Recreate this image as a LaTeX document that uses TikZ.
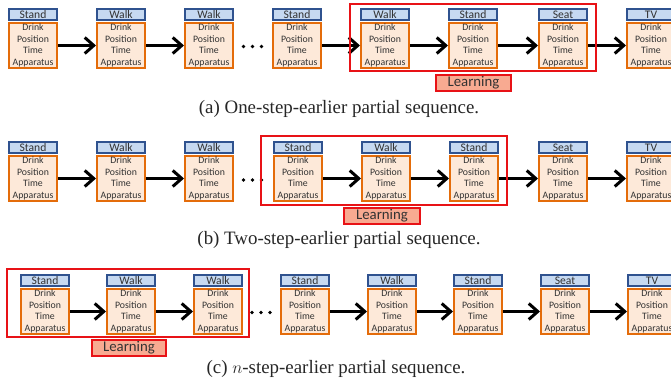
\documentclass[tikz,border=0pt]{standalone}
\usepackage{fontspec}
\setmainfont{Liberation Serif}
\newfontfamily\boxfont{Carlito}
\usetikzlibrary{arrows.meta}

\definecolor{hdrfill}{RGB}{198,217,241}
\definecolor{hdrline}{RGB}{47,82,143}
\definecolor{bdyfill}{RGB}{253,233,217}
\definecolor{bdyline}{RGB}{228,108,10}
\definecolor{framered}{RGB}{232,18,22}
\definecolor{learnfill}{RGB}{248,170,145}
\definecolor{boxtext}{RGB}{50,50,50}

\tikzset{
  hdr/.style={draw=hdrline, fill=hdrfill, line width=2pt, anchor=north west,
    minimum width=48pt, minimum height=11pt, inner sep=0pt, text=boxtext,
    font=\boxfont\fontsize{11.6}{12}\selectfont},
  bdy/.style={draw=bdyline, fill=bdyfill, line width=2pt, anchor=north west,
    minimum width=48pt, minimum height=45pt, inner sep=0pt, align=center, text=boxtext,
    font=\boxfont\fontsize{9.8}{11.6}\selectfont},
  seqarrow/.style={line width=3pt, -{Straight Barb[length=9pt,width=16pt]}},
  frame/.style={draw=framered, line width=2pt},
  learn/.style={draw=framered, fill=learnfill, line width=2pt, inner sep=0pt,
    text=boxtext, font=\boxfont\fontsize{14.8}{15}\selectfont},
  dot/.style={fill=black, draw=none},
  caption/.style={anchor=base, font=\fontsize{18.9}{20}\selectfont, text=black!85}
}

% one row of activity boxes: #1 row name, #2 top edge, #3 list of left-edge/label
\newcommand\activityrow[3]{%
  \foreach \bx/\lab [count=\i] in {#3} {
    \node[hdr] (#1\i h) at (\bx+1,#2+1) {\lab};
    \node[bdy] (#1\i) at (\bx+1,#2+15) {Drink\\Position\\Time\\Apparatus};
  }%
}

\begin{document}
\begin{tikzpicture}[x=1pt,y=-1pt]
  \useasboundingbox (0,0) rectangle (671,387);

  % ---- (a) ----
  \activityrow{a}{7}{7/Stand,95/Walk,183/Walk,271/Stand,359/Walk,447/Stand,537/Seat,625/TV}
  \foreach \p/\q in {1/2,2/3,4/5,5/6,6/7,7/8}
    \draw[seqarrow] (a\p) -- (a\q);
  \foreach \dx in {243.5,252.5,261.5}
    \fill[dot] (\dx,46.5) circle (1.8);
  \draw[frame] (350,4) rectangle (596,71);
  \node[learn, minimum width=75pt, minimum height=16pt] (la) at (473.5,83) {Learning};
  \node[caption] (capa) at (339,114) {(a) One-step-earlier partial sequence.};

  % ---- (b) ----
  \activityrow{b}{140}{7/Stand,95/Walk,183/Walk,272/Stand,360/Walk,448/Stand,537/Seat,625/TV}
  \foreach \p/\q in {1/2,2/3,4/5,5/6,6/7,7/8}
    \draw[seqarrow] (b\p) -- (b\q);
  \foreach \dx in {243.5,252.5,261.5}
    \fill[dot] (\dx,180) circle (1.8);
  \draw[frame] (261,136) rectangle (507,205);
  \node[learn, minimum width=76pt, minimum height=16pt] (lb) at (382,216) {Learning};
  \node[caption] (capb) at (339,244) {(b) Two-step-earlier partial sequence.};

  % ---- (c) ----
  \activityrow{c}{273}{19/Stand,105/Walk,192/Walk,279/Stand,366/Walk,452/Stand,539/Seat,626/TV}
  \foreach \p/\q in {1/2,2/3,4/5,5/6,6/7,7/8}
    \draw[seqarrow] (c\p) -- (c\q);
  \foreach \dx in {252,261,270}
    \fill[dot] (\dx,312.5) circle (1.8);
  \draw[frame] (7,269) rectangle (249,337);
  \node[learn, minimum width=74pt, minimum height=16pt] (lc) at (129,348) {Learning};
  \node[caption] (capc) at (336,373) {(c) $n$-step-earlier partial sequence.};
\end{tikzpicture}
\end{document}
